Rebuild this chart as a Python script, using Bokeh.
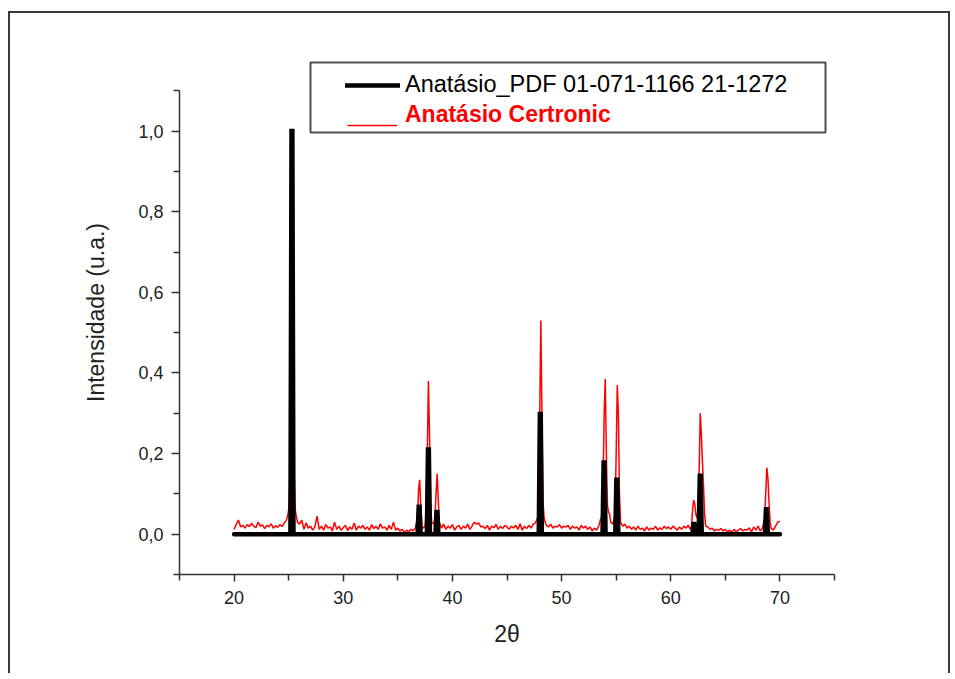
from bokeh.plotting import figure
from bokeh.models import (Range1d, FixedTicker, CustomJSTickFormatter, Legend, LegendItem,
                          BoxAnnotation)
from bokeh.embed import file_html
from bokeh.resources import INLINE

# ---------------- data ----------------
# reference pattern (PDF 01-071-1166 / 21-1272): peak positions (2theta) and relative intensities
ref_pos = [25.30, 36.95, 37.80, 38.58, 48.05, 53.89, 55.06, 62.12, 62.70, 68.76]
ref_int = [1.000, 0.068, 0.210, 0.055, 0.298, 0.178, 0.135, 0.025, 0.145, 0.062]
ref_start, ref_end = 20.0, 70.0

# measured diffractogram (Anatásio Certronic), normalised intensity
red_2theta = [
    20.0, 20.2, 20.4, 20.6, 20.8, 21.0, 21.2, 21.4, 21.6, 21.8, 22.0, 22.2, 22.4, 22.6, 22.8,
    23.0, 23.2, 23.4, 23.6, 23.8, 24.0, 24.2, 24.4, 24.6, 24.8,
    24.9, 25.0, 25.1, 25.2, 25.3, 25.4, 25.5, 25.6, 25.7, 25.8,
    26.0, 26.2, 26.4, 26.6, 26.8, 27.0, 27.2, 27.4, 27.6, 27.8, 28.0, 28.2, 28.4, 28.6, 28.8,
    29.0, 29.2, 29.4, 29.6, 29.8, 30.0, 30.2, 30.4, 30.6, 30.8, 31.0, 31.2, 31.4, 31.6, 31.8,
    32.0, 32.2, 32.4, 32.6, 32.8, 33.0, 33.2, 33.4, 33.6, 33.8, 34.0, 34.2, 34.4, 34.6, 34.8,
    35.0, 35.2, 35.4, 35.6, 35.8, 36.0, 36.2, 36.4, 36.6,
    36.8, 36.9, 37.0, 37.1, 37.2, 37.3, 37.5, 37.6, 37.7, 37.8, 37.9, 38.0, 38.1, 38.3, 38.4,
    38.5, 38.6, 38.7, 38.8, 39.0,
    39.2, 39.4, 39.6, 39.8, 40.0, 40.2, 40.4, 40.6, 40.8, 41.0, 41.2, 41.4, 41.6, 41.8, 42.0,
    42.2, 42.4, 42.6, 42.8, 43.0, 43.2, 43.4, 43.6, 43.8, 44.0, 44.2, 44.4, 44.6, 44.8, 45.0,
    45.2, 45.4, 45.6, 45.8, 46.0, 46.2, 46.4, 46.6, 46.8, 47.0, 47.2, 47.4, 47.6, 47.8,
    47.9, 48.0, 48.1, 48.2, 48.3, 48.4, 48.5,
    48.6, 48.8, 49.0, 49.2, 49.4, 49.6, 49.8, 50.0, 50.2, 50.4, 50.6, 50.8, 51.0, 51.2, 51.4,
    51.6, 51.8, 52.0, 52.2, 52.4, 52.6, 52.8, 53.0, 53.2, 53.4, 53.6,
    53.7, 53.8, 53.9, 54.0, 54.1, 54.2, 54.3, 54.4, 54.5, 54.7, 54.9, 55.0, 55.1, 55.2, 55.3,
    55.4, 55.6,
    55.8, 56.0, 56.2, 56.4, 56.6, 56.8, 57.0, 57.2, 57.4, 57.6, 57.8, 58.0, 58.2, 58.4, 58.6,
    58.8, 59.0, 59.2, 59.4, 59.6, 59.8, 60.0, 60.2, 60.4, 60.6, 60.8, 61.0, 61.2, 61.4, 61.6,
    61.8,
    61.9, 62.0, 62.1, 62.2, 62.3, 62.4, 62.5, 62.6, 62.7, 62.8, 62.9, 63.0, 63.1, 63.2,
    63.4, 63.6, 63.8, 64.0, 64.2, 64.4, 64.6, 64.8, 65.0, 65.2, 65.4, 65.6, 65.8, 66.0, 66.2,
    66.4, 66.6, 66.8, 67.0, 67.2, 67.4, 67.6, 67.8, 68.0, 68.2, 68.4, 68.6,
    68.7, 68.8, 68.9, 69.0, 69.1, 69.2,
    69.4, 69.6, 69.8, 70.0,
]
red_int = [
    0.012, 0.025, 0.035, 0.018, 0.022, 0.015, 0.024, 0.019, 0.027, 0.020, 0.016, 0.030, 0.020, 0.023, 0.014,
    0.022, 0.018, 0.026, 0.015, 0.021, 0.017, 0.024, 0.019, 0.028, 0.035,
    0.045, 0.060, 0.120, 0.550, 1.000, 0.600, 0.150, 0.060, 0.045, 0.030,
    0.025, 0.035, 0.012, 0.028, 0.015, 0.020, 0.010, 0.018, 0.045, 0.012, 0.020, 0.010, 0.024, 0.015, 0.018,
    0.008, 0.030, 0.012, 0.020, 0.010, 0.016, 0.022, 0.009, 0.018, 0.012, 0.028, 0.010, 0.020, 0.015, 0.022,
    0.012, 0.018, 0.010, 0.024, 0.014, 0.020, 0.012, 0.026, 0.015, 0.018, 0.010, 0.022, 0.012, 0.030, 0.010,
    0.015, 0.008, 0.012, 0.004, 0.010, 0.006, 0.012, 0.008, 0.015,
    0.040, 0.110, 0.135, 0.070, 0.020, 0.015, 0.020, 0.060, 0.200, 0.380, 0.250, 0.080, 0.030, 0.025, 0.040,
    0.100, 0.150, 0.090, 0.030, 0.015,
    0.025, 0.012, 0.020, 0.015, 0.024, 0.010, 0.018, 0.022, 0.012, 0.020, 0.015, 0.025, 0.012, 0.020, 0.030,
    0.025, 0.028, 0.018, 0.020, 0.014, 0.022, 0.010, 0.020, 0.016, 0.024, 0.012, 0.020, 0.014, 0.022, 0.018,
    0.012, 0.020, 0.015, 0.022, 0.012, 0.026, 0.010, 0.020, 0.014, 0.022, 0.015, 0.025, 0.028, 0.040,
    0.060, 0.300, 0.530, 0.300, 0.080, 0.040, 0.030,
    0.022, 0.018, 0.025, 0.015, 0.020, 0.018, 0.024, 0.015, 0.020, 0.018, 0.022, 0.012, 0.020, 0.015, 0.018,
    0.010, 0.022, 0.015, 0.020, 0.012, 0.018, 0.008, 0.015, 0.010, 0.020, 0.040,
    0.030, 0.120, 0.300, 0.385, 0.200, 0.070, 0.055, 0.050, 0.030, 0.025, 0.050, 0.200, 0.370, 0.300, 0.100,
    0.030, 0.020,
    0.025, 0.015, 0.020, 0.012, 0.018, 0.010, 0.020, 0.012, 0.015, 0.008, 0.018, 0.010, 0.015, 0.012, 0.020,
    0.010, 0.016, 0.012, 0.020, 0.014, 0.018, 0.012, 0.020, 0.015, 0.010, 0.018, 0.012, 0.020, 0.015, 0.022,
    0.012,
    0.020, 0.060, 0.085, 0.075, 0.050, 0.040, 0.060, 0.150, 0.300, 0.250, 0.180, 0.120, 0.050, 0.020,
    0.018, 0.012, 0.015, 0.008, 0.012, 0.010, 0.014, 0.008, 0.012, 0.005, 0.010, 0.004, 0.012, 0.006, 0.010,
    0.014, 0.008, 0.012, 0.010, 0.016, 0.006, 0.018, 0.010, 0.020, 0.008, 0.015, 0.040,
    0.100, 0.165, 0.140, 0.080, 0.030, 0.015,
    0.010, 0.020, 0.030, 0.032,
]

x_major = [20, 30, 40, 50, 60, 70]
x_minor = [15, 25, 35, 45, 55, 65, 75]
y_major = [0.0, 0.2, 0.4, 0.6, 0.8, 1.0]
y_minor = [-0.1, 0.1, 0.3, 0.5, 0.7, 0.9, 1.1]

label_ref = "Anatásio_PDF 01-071-1166 21-1272"
label_meas = "Anatásio Certronic"
x_title = "2θ"
y_title = "Intensidade (u.a.)"

# stick pattern line built from the peak list (baseline at 0 with narrow peaks)
half_base, half_top = 0.14, 0.04
ref_x, ref_y = [ref_start], [0.0]
for pos, h in zip(ref_pos, ref_int):
    ref_x += [pos - half_base, pos - half_top, pos + half_top, pos + half_base]
    ref_y += [0.0, h, h, 0.0]
ref_x.append(ref_end)
ref_y.append(0.0)

FONT = "Liberation Sans"
AX = "#333333"

p = figure(width=942, height=662, x_range=Range1d(15, 75), y_range=Range1d(-0.1, 1.2),
           output_backend="svg", toolbar_location=None,
           min_border_left=169, min_border_right=118, min_border_top=37, min_border_bottom=101)
p.styles = {"border-top": "2px solid #3a3a3a", "border-left": "2px solid #3a3a3a",
            "border-right": "2px solid #3a3a3a", "margin-top": "11px", "margin-left": "8px"}
p.outline_line_color = None
p.xgrid.visible = False
p.ygrid.visible = False
p.background_fill_color = "white"
p.border_fill_color = "white"

red_r = p.line(red_2theta, red_int, line_color="#ff0000", line_width=1.5)
blk_r = p.line(ref_x, ref_y, line_color="black", line_width=4.5, line_join="miter",
               line_cap="round")

for ax in (p.xaxis[0], p.yaxis[0]):
    ax.axis_line_color = AX
    ax.axis_line_width = 1.5
    ax.major_tick_line_color = AX
    ax.major_tick_line_width = 1.5
    ax.minor_tick_line_color = AX
    ax.minor_tick_line_width = 1.5
    ax.major_tick_in = 0
    ax.minor_tick_in = 0
    ax.major_label_text_font = FONT
    ax.major_label_text_font_size = "18px"
    ax.major_label_text_color = "#222222"
    ax.axis_label_text_font = FONT
    ax.axis_label_text_font_size = "23px"
    ax.axis_label_text_font_style = "normal"
    ax.axis_label_text_color = "#222222"

xa = p.xaxis[0]
xa.ticker = FixedTicker(ticks=x_major, minor_ticks=x_minor)
xa.bounds = (15, 75)
xa.major_tick_out = 7
xa.minor_tick_out = 6
xa.major_label_standoff = 9
xa.axis_label = x_title
xa.axis_label_standoff = 14

ya = p.yaxis[0]
ya.ticker = FixedTicker(ticks=y_major, minor_ticks=y_minor)
ya.bounds = (-0.1, 1.1)
ya.formatter = CustomJSTickFormatter(code="return tick.toFixed(1).replace('.', ',');")
ya.major_tick_out = 8
ya.minor_tick_out = 6
ya.major_label_standoff = 8
ya.axis_label = y_title
ya.axis_label_standoff = 26

# legend frame
box = BoxAnnotation(left=131, right=646, bottom=442, top=512,
                    left_units="screen", right_units="screen",
                    top_units="screen", bottom_units="screen",
                    fill_color="white", fill_alpha=1.0,
                    line_color="#505050", line_alpha=1.0, line_width=2, level="annotation")
p.add_layout(box)

common = dict(padding=0, margin=0, spacing=0, label_height=20, label_text_font=FONT,
              border_line_color=None, background_fill_alpha=0)
leg1 = Legend(items=[LegendItem(label=label_ref, renderers=[blk_r])],
              location=(166, 476), glyph_width=55, glyph_height=20, label_standoff=5,
              label_text_font_size="23.5px", label_text_color="black", **common)
# red label text (bold, red)
leg2 = Legend(items=[LegendItem(label=label_meas, renderers=[red_r])],
              location=(226, 446), glyph_width=0, glyph_height=20, label_standoff=0,
              label_text_font_size="23px", label_text_color="#ff0000",
              label_text_font_style="bold", **common)
# red line sample, sitting low like in the original legend
leg3 = Legend(items=[LegendItem(label="\u00a0", renderers=[red_r])],
              location=(168, 436), glyph_width=50, glyph_height=20, label_standoff=0,
              label_text_font_size="23px", label_text_color="#ff0000", **common)
p.add_layout(leg1, "center")
p.add_layout(leg2, "center")
p.add_layout(leg3, "center")

open("out.html", "w").write(file_html(p, INLINE))
